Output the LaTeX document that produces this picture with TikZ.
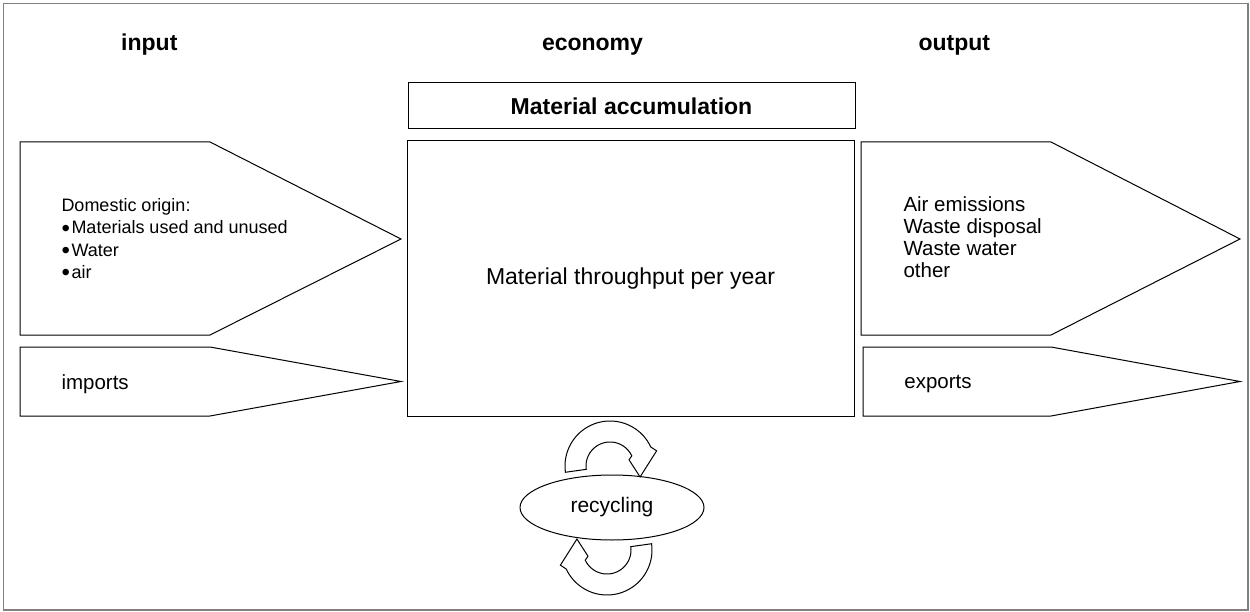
\documentclass[tikz,border=0pt]{standalone}
\usepackage{fontspec}
\setmainfont{Liberation Sans}
\usetikzlibrary{shapes.geometric}
\newcommand\mybul{\makebox[10pt][l]{\raisebox{-2.5pt}{\fontsize{24}{24}\selectfont •}}}
\begin{document}
\begin{tikzpicture}[x=1pt,y=-1pt,
  blk/.style={draw=black, line width=1pt, fill=white},
  hdr/.style={anchor=base west, inner sep=0pt, font=\fontsize{23}{27}\selectfont\bfseries},
  lbl/.style={anchor=base west, inner sep=0pt, align=left},
  box/.style={draw=black, line width=1pt, fill=white, inner sep=0pt}]
\useasboundingbox (0,0) rectangle (1250,612);
\draw[gray, line width=1.5pt] (3.5,3.5) rectangle (1248,610);

% headers
\node[hdr] (inhdr) at (121,51) {input};
\node[hdr] (ecohdr) at (541.8,51) {economy};
\node[hdr] (outhdr) at (918.4,51) {output};

% block arrows
\draw[blk] (20,142) -- (210,142) -- (401,239) -- (210,335) -- (20,335) -- cycle;
\draw[blk] (20,347) -- (210,347) -- (401,381.5) -- (210,416) -- (20,416) -- cycle;
\draw[blk] (861,142) -- (1051,142) -- (1240,239) -- (1051,335) -- (861,335) -- cycle;
\draw[blk] (863,347) -- (1051,347) -- (1240,381.5) -- (1051,416) -- (863,416) -- cycle;

% boxes
\node[box, minimum width=447pt, minimum height=46pt, font=\fontsize{23}{27}\selectfont\bfseries]
  (accum) at (631.5,106) {Material accumulation};
\node[box, minimum width=447pt, minimum height=275pt, font=\fontsize{23}{27}\selectfont]
  (through) at (630.5,278.5) {Material throughput per year};

% texts in arrows (base = baseline of last line)
\node[lbl, font=\fontsize{18}{22.3}\selectfont] (dom) at (61.3,278.5)
  {Domestic origin:\\\mybul Materials used and unused\\\mybul Water\\\mybul air};
\node[lbl, font=\fontsize{20.5}{22.3}\selectfont] (emis) at (903.3,278)
  {Air emissions\\Waste disposal\\Waste water\\other};
\node[lbl, font=\fontsize{20.5}{24}\selectfont] (imp) at (61.3,389) {imports};
\node[lbl, font=\fontsize{20.5}{24}\selectfont] (exp) at (904.2,388) {exports};

% recycling
\node[ellipse, draw=black, line width=1pt, fill=white, minimum width=184pt, minimum height=65pt, inner sep=0pt,
  font=\fontsize{21}{24}\selectfont] (recyc) at (612,507.5) {recycling};

\draw[blk] plot[domain=172:335, samples=50] ({610+45*cos(\x)},{466+45*sin(\x)})
  -- ({610+49*cos(342)},{466+49*sin(342)})
  -- ({610+32*cos(20)},{466+32*sin(20)})
  -- ({610+20*cos(342)},{466+20*sin(342)})
  -- plot[domain=335:172, samples=50] ({610+24*cos(\x)},{466+24*sin(\x)}) -- cycle;

\draw[blk] plot[domain=-8:155, samples=50] ({607+45*cos(\x)},{550+45*sin(\x)})
  -- ({607+49*cos(162)},{550+49*sin(162)})
  -- ({607+32*cos(200)},{550+32*sin(200)})
  -- ({607+20*cos(162)},{550+20*sin(162)})
  -- plot[domain=155:-8, samples=50] ({607+24*cos(\x)},{550+24*sin(\x)}) -- cycle;
\end{tikzpicture}
\end{document}
